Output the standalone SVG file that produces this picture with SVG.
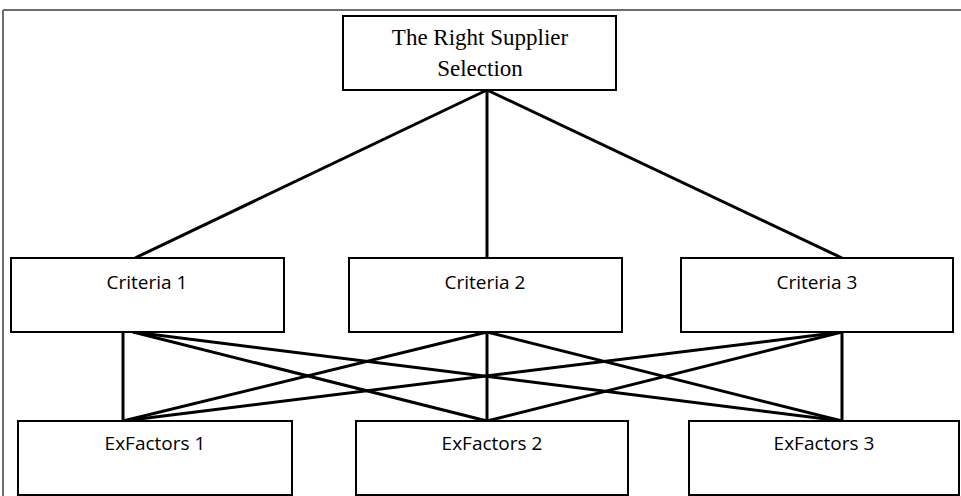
<svg xmlns="http://www.w3.org/2000/svg" width="961" height="496" viewBox="0 0 961 496">
<style>
.box{fill:#fff;stroke:#000;stroke-width:2}
.c{stroke:#000;stroke-width:3;fill:none}
.t{font-family:"Liberation Serif",serif;font-size:23px;text-anchor:middle;fill:#000}
.s{font-family:"Open Sans","Liberation Sans",sans-serif;font-size:19px;text-anchor:middle;fill:#000}
</style>
<rect width="961" height="496" fill="#fff"/>
<path d="M3 10H961M3 10V496" stroke="#6e6e6e" stroke-width="2" fill="none"/>
<g id="connectors">
<line class="c" x1="487" y1="90" x2="135" y2="258"/>
<line class="c" x1="487" y1="90" x2="487" y2="258"/>
<line class="c" x1="487" y1="90" x2="842" y2="258"/>
<line class="c" x1="123" y1="332" x2="123" y2="421"/>
<line class="c" x1="133" y1="332" x2="487" y2="421"/>
<line class="c" x1="133" y1="332" x2="842" y2="421"/>
<line class="c" x1="487" y1="332" x2="123" y2="421"/>
<line class="c" x1="487" y1="332" x2="487" y2="421"/>
<line class="c" x1="487" y1="332" x2="842" y2="421"/>
<line class="c" x1="842" y1="332" x2="123" y2="421"/>
<line class="c" x1="842" y1="332" x2="487" y2="421"/>
<line class="c" x1="842" y1="332" x2="842" y2="421"/>
</g>
<g id="top">
<rect class="box" x="343" y="16" width="273" height="74"/>
<text class="t" x="480" y="45">The Right Supplier</text>
<text class="t" x="480" y="76">Selection</text>
</g>
<g id="criteria1">
<rect class="box" x="11" y="258" width="273" height="74"/>
<text class="s" x="147" y="289">Criteria 1</text>
</g>
<g id="criteria2">
<rect class="box" x="349" y="258" width="273" height="74"/>
<text class="s" x="485" y="289">Criteria 2</text>
</g>
<g id="criteria3">
<rect class="box" x="681" y="258" width="272" height="74"/>
<text class="s" x="817" y="289">Criteria 3</text>
</g>
<g id="exfactors1">
<rect class="box" x="18" y="421" width="274" height="74"/>
<text class="s" x="155" y="450">ExFactors 1</text>
</g>
<g id="exfactors2">
<rect class="box" x="356" y="421" width="272" height="74"/>
<text class="s" x="492" y="450">ExFactors 2</text>
</g>
<g id="exfactors3">
<rect class="box" x="689" y="421" width="270" height="74"/>
<text class="s" x="824" y="450">ExFactors 3</text>
</g>
</svg>
